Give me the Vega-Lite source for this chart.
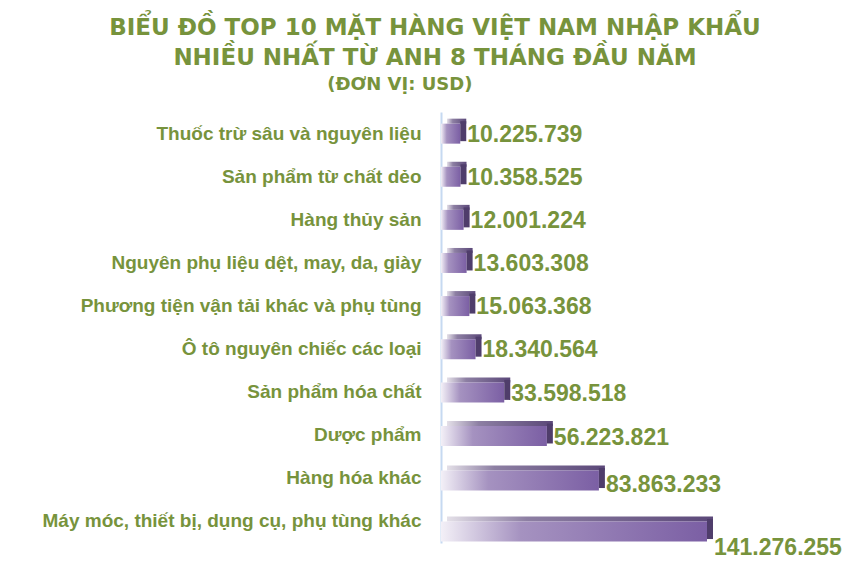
{
  "$schema": "https://vega.github.io/schema/vega-lite/v6.json",
  "autosize": {"type": "none"},
  "padding": {"left": 441, "top": 112, "right": 140, "bottom": 40},
  "width": 266,
  "height": 431,
  "background": "white",
  "title": {
    "text": ["BIỂU ĐỒ TOP 10 MẶT HÀNG VIỆT NAM NHẬP KHẨU", "NHIỀU NHẤT TỪ ANH 8 THÁNG ĐẦU NĂM"],
    "subtitle": "(ĐƠN VỊ: USD)\u2800\u2800\u2800\u2800\u2800",
    "anchor": "middle",
    "frame": "group",
    "dx": -139,
    "offset": 18,
    "font": "DejaVu Sans",
    "fontSize": 23,
    "fontWeight": "bold",
    "lineHeight": 30,
    "color": "#77933C",
    "subtitleFont": "DejaVu Sans",
    "subtitleFontSize": 18,
    "subtitleFontWeight": "bold",
    "subtitleColor": "#77933C",
    "subtitlePadding": 6
  },
  "data": {
    "values": [
      {"mat_hang": "Thuốc trừ sâu và nguyên liệu", "gia_tri": 10225739},
      {"mat_hang": "Sản phẩm từ chất dẻo", "gia_tri": 10358525},
      {"mat_hang": "Hàng thủy sản", "gia_tri": 12001224},
      {"mat_hang": "Nguyên phụ liệu dệt, may, da, giày", "gia_tri": 13603308},
      {"mat_hang": "Phương tiện vận tải khác và phụ tùng", "gia_tri": 15063368},
      {"mat_hang": "Ô tô nguyên chiếc các loại", "gia_tri": 18340564},
      {"mat_hang": "Sản phẩm hóa chất", "gia_tri": 33598518},
      {"mat_hang": "Dược phẩm", "gia_tri": 56223821},
      {"mat_hang": "Hàng hóa khác", "gia_tri": 83863233},
      {"mat_hang": "Máy móc, thiết bị, dụng cụ, phụ tùng khác", "gia_tri": 141276255}
    ]
  },
  "encoding": {
    "y": {
      "field": "mat_hang",
      "type": "nominal",
      "sort": null,
      "title": null,
      "scale": {"paddingInner": 0.1, "paddingOuter": 0.05},
      "axis": {
        "domainColor": "#C6D9F1",
        "domainWidth": 2,
        "ticks": false,
        "labelPadding": 20,
        "labelFont": "Liberation Sans",
        "labelFontSize": 19,
        "labelFontWeight": "bold",
        "labelColor": "#77933C",
        "labelLimit": 0
      }
    },
    "x": {
      "field": "gia_tri",
      "type": "quantitative",
      "scale": {"domain": [0, 141276255], "nice": false},
      "axis": null
    }
  },
  "layer": [
    {
      "mark": {
        "type": "bar",
        "height": 5,
        "xOffset": 6,
        "x2Offset": 3,
        "color": {
          "gradient": "linear",
          "x1": 0, "y1": 0, "x2": 1, "y2": 0,
          "stops": [
            {"offset": 0, "color": "#e4e0e8"},
            {"offset": 0.3, "color": "#8d7fa3"},
            {"offset": 1, "color": "#5b4879"}
          ]
        }
      },
      "encoding": {
        "yOffset": {
          "field": "gia_tri",
          "type": "quantitative",
          "scale": {"type": "pow", "exponent": 3, "domain": [0, 141276255], "range": [7, 17]}
        }
      }
    },
    {
      "mark": {
        "type": "bar",
        "height": 20,
        "x2Offset": 4,
        "color": {
          "gradient": "linear",
          "x1": 0, "y1": 0, "x2": 1, "y2": 0,
          "stops": [
            {"offset": 0, "color": "#f3f0f7"},
            {"offset": 0.3, "color": "#a592c0"},
            {"offset": 1, "color": "#7b5fa4"}
          ]
        }
      },
      "encoding": {
        "yOffset": {
          "field": "gia_tri",
          "type": "quantitative",
          "scale": {"type": "pow", "exponent": 3, "domain": [0, 141276255], "range": [19.5, 29.5]}
        }
      }
    },
    {
      "mark": {
        "type": "bar",
        "height": 20,
        "x2Offset": 6,
        "color": "#4f3d6b"
      },
      "encoding": {
        "x2": {"field": "gia_tri"},
        "yOffset": {
          "field": "gia_tri",
          "type": "quantitative",
          "scale": {"type": "pow", "exponent": 3, "domain": [0, 141276255], "range": [17, 27]}
        }
      }
    },
    {
      "mark": {
        "type": "text",
        "align": "left",
        "baseline": "middle",
        "dx": 7,
        "dy": 1,
        "font": "Liberation Sans",
        "fontSize": 23,
        "fontWeight": "bold",
        "color": "#77933C"
      },
      "encoding": {
        "text": {"field": "gia_tri", "type": "quantitative", "format": ",d"},
        "yOffset": {
          "field": "gia_tri",
          "type": "quantitative",
          "scale": {"type": "pow", "exponent": 3, "domain": [0, 141276255], "range": [19.5, 45]}
        }
      }
    }
  ],
  "resolve": {"scale": {"yOffset": "independent"}},
  "config": {
    "view": {"stroke": null},
    "locale": {
      "number": {
        "decimal": ",",
        "thousands": ".",
        "grouping": [3],
        "currency": ["", " USD"]
      }
    }
  }
}
